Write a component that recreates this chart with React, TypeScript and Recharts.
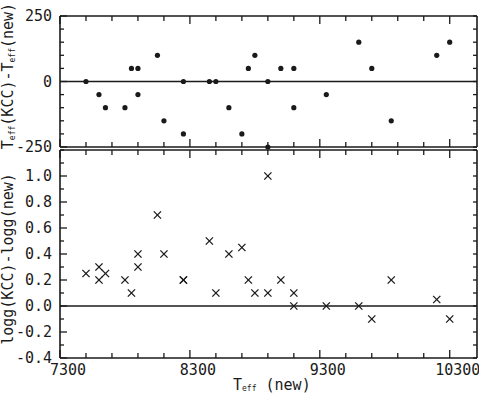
import React from "react";
import { ScatterChart, Scatter, XAxis, YAxis, ReferenceLine } from "recharts";

// ---------- data ----------
const teffTop = [7500, 7600, 7650, 7800, 7850, 7900, 7900, 8050, 8100, 8250, 8250, 8450, 8500, 8600,
  8700, 8750, 8800, 8900, 8900, 9000, 9100, 9100, 9350, 9600, 9700, 9850, 10200, 10300];
const dTeff = [0, -50, -100, -100, 50, 50, -50, 100, -150, 0, -200, 0, 0, -100,
  -200, 50, 100, 0, -250, 50, 50, -100, -50, 150, 50, -150, 100, 150];

const teffBot = [7500, 7600, 7600, 7650, 7800, 7850, 7900, 7900, 8050, 8100, 8250, 8250, 8450, 8500, 8600,
  8700, 8750, 8800, 8900, 8900, 9000, 9100, 9100, 9350, 9600, 9700, 9850, 10200, 10300];
const dLogg = [0.25, 0.3, 0.2, 0.25, 0.2, 0.1, 0.4, 0.3, 0.7, 0.4, 0.2, 0.2, 0.5, 0.1, 0.4,
  0.45, 0.2, 0.1, 1.0, 0.1, 0.2, 0.1, 0.0, 0.0, 0.0, -0.1, 0.2, 0.05, -0.1];

const xTicks = [7300, 7500, 7700, 7900, 8100, 8300, 8500, 8700, 8900, 9100, 9300, 9500, 9700, 9900, 10100, 10300];
const xLabelTicks = [7300, 8300, 9300, 10300];
const yTicksTop = [-250, -200, -150, -100, -50, 0, 50, 100, 150, 200, 250];
const yLabelTicksTop = [-250, 0, 250];
const yTicksBot = [-0.4, -0.3, -0.2, -0.1, 0, 0.1, 0.2, 0.3, 0.4, 0.5, 0.6, 0.7, 0.8, 0.9, 1.0, 1.1, 1.2];
const yLabelTicksBot = ["-0.4", "-0.2", "0.0", "0.2", "0.4", "0.6", "0.8", "1.0"];

const topData = teffTop.map((t, i) => ({ x: t, y: dTeff[i] }));
const botData = teffBot.map((t, i) => ({ x: t, y: dLogg[i] }));

// ---------- style ----------
const W = 479;
const INK = "#1a1a1a";
const FONT = "'DejaVu Sans Mono', monospace";
const FS = 15;
const X_DOMAIN: [number, number] = [7300, 10510];

const isMajorX = (v: number) => xLabelTicks.includes(v);

const makeXTick = (dir: number, labels: boolean) => (props: any) => {
  const { x, y, payload } = props;
  const v = payload.value;
  const len = isMajorX(v) ? 8 : 5;
  return (
    <g>
      <line x1={x} x2={x} y1={y} y2={y + dir * len} stroke={INK} strokeWidth={1.3} />
      {labels && isMajorX(v) && (
        <text x={x + 8} y={y + 17} textAnchor="middle" fontFamily={FONT} fontSize={FS} fill={INK}>
          {v}
        </text>
      )}
    </g>
  );
};

const makeYTick = (dir: number, isLabel: (v: number) => string | null) => (props: any) => {
  const { x, y, payload } = props;
  const v = payload.value;
  const lab = isLabel(v);
  const len = lab !== null ? 7 : 4;
  return (
    <g>
      <line x1={x} x2={x + dir * len} y1={y} y2={y} stroke={INK} strokeWidth={1.3} />
      {dir > 0 && lab !== null && (
        <text x={x - 8} y={y + 5} textAnchor="end" fontFamily={FONT} fontSize={FS} fill={INK}>
          {lab}
        </text>
      )}
    </g>
  );
};

const topLabel = (v: number) => (yLabelTicksTop.includes(v) ? String(v) : null);
const botLabel = (v: number) => {
  const s = v.toFixed(1);
  return yLabelTicksBot.includes(s) ? s : null;
};
const noLabel = (_v: number) => null;

const Dot = (props: any) => {
  const { cx, cy } = props;
  return <circle cx={cx} cy={cy} r={2.6} fill={INK} />;
};

const Cross = (props: any) => {
  const { cx, cy } = props;
  const s = 3.6;
  return (
    <g stroke={INK} strokeWidth={1.3}>
      <line x1={cx - s} y1={cy - s} x2={cx + s} y2={cy + s} />
      <line x1={cx - s} y1={cy + s} x2={cx + s} y2={cy - s} />
    </g>
  );
};

const axisLine = { stroke: INK, strokeWidth: 1.6 };

function Panel(props: {
  height: number;
  margin: { top: number; right: number; bottom: number; left: number };
  data: { x: number; y: number }[];
  yDomain: [number, number];
  yTicks: number[];
  yLab: (v: number) => string | null;
  xLabels: boolean;
  shape: (p: any) => any;
}) {
  const { height, margin, data, yDomain, yTicks, yLab, xLabels, shape } = props;
  return (
    <ScatterChart width={W} height={height} margin={margin}>
      <XAxis xAxisId="b" dataKey="x" type="number" domain={X_DOMAIN} ticks={xTicks} interval={0}
        orientation="bottom" height={1} tickSize={0} tickMargin={0} tickLine={false}
        axisLine={axisLine} tick={makeXTick(-1, xLabels)} />
      <XAxis xAxisId="t" dataKey="x" type="number" domain={X_DOMAIN} ticks={xTicks} interval={0}
        orientation="top" height={1} tickSize={0} tickMargin={0} tickLine={false}
        axisLine={axisLine} tick={makeXTick(1, false)} />
      <YAxis yAxisId="l" dataKey="y" type="number" domain={yDomain} ticks={yTicks} interval={0}
        orientation="left" width={1} tickSize={0} tickMargin={0} tickLine={false}
        axisLine={axisLine} tick={makeYTick(1, yLab)} />
      <YAxis yAxisId="r" dataKey="y" type="number" domain={yDomain} ticks={yTicks} interval={0}
        orientation="right" width={1} tickSize={0} tickMargin={0} tickLine={false}
        axisLine={axisLine} tick={makeYTick(-1, noLabel)} />
      <ReferenceLine xAxisId="b" yAxisId="l" y={0} stroke={INK} strokeWidth={1.5} />
      <Scatter xAxisId="b" yAxisId="l" data={data} shape={shape} isAnimationActive={false} />
      <Scatter xAxisId="t" yAxisId="r" data={data} shape={() => <g />} isAnimationActive={false} />
    </ScatterChart>
  );
}

export default function App() {
  return (
    <div style={{ position: "absolute", left: 0, top: 0, width: W, height: 396, background: "#fff" }}>
      <div style={{ position: "absolute", left: 0, top: 0 }}>
        <Panel height={165} margin={{ top: 15, right: 1, bottom: 17, left: 59 }} data={topData}
          yDomain={[-250, 250]} yTicks={yTicksTop} yLab={topLabel} xLabels={false} shape={Dot} />
      </div>
      <div style={{ position: "absolute", left: 0, top: 0 }}>
        <Panel height={396} margin={{ top: 149, right: 1, bottom: 37, left: 59 }} data={botData}
          yDomain={[-0.4, 1.2]} yTicks={yTicksBot} yLab={botLabel} xLabels={true} shape={Cross} />
      </div>
      <svg width={W} height={396} style={{ position: "absolute", left: 0, top: 0, pointerEvents: "none" }}>
        <text transform="rotate(-90, 13, 76)" x={13} y={76} textAnchor="middle" fontFamily={FONT} fontSize={FS} fill={INK}>
          T<tspan fontSize={8} dy={2}>eff</tspan><tspan dy={-2}>(KCC)-T</tspan><tspan fontSize={8} dy={2}>eff</tspan><tspan dy={-2}>(new)</tspan>
        </text>
        <text transform="rotate(-90, 13, 259)" x={13} y={259} textAnchor="middle" fontFamily={FONT} fontSize={FS} fill={INK}>
          logg(KCC)-logg(new)
        </text>
        <text x={233} y={390} textAnchor="start" fontFamily={FONT} fontSize={FS} fill={INK}>
          T<tspan fontSize={8} dy={1}>eff</tspan><tspan dy={-1}> (new)</tspan>
        </text>
      </svg>
    </div>
  );
}
